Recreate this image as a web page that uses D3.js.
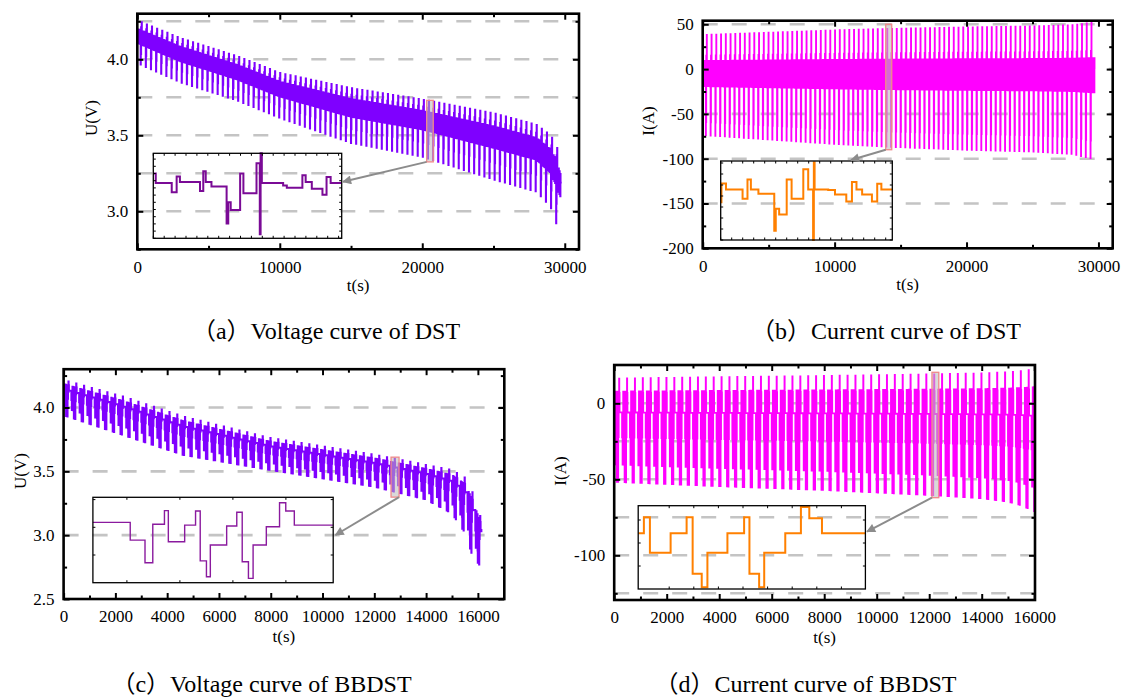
<!DOCTYPE html>
<html>
<head>
<meta charset="utf-8">
<script src="https://cdn.jsdelivr.net/npm/d3@7"></script>
<style>
  body { margin: 0; background: #fff; }
</style>
</head>
<body>
<svg id="chart" width="1122" height="698" font-family="'Liberation Serif', 'Times New Roman', 'Noto Sans CJK SC', serif"></svg>
<script>
const SERIF = "'Liberation Serif', 'Times New Roman', 'Noto Sans CJK SC', serif";

// ---------- DST test (panels a, b) ----------
// one 360 s DST cycle: step durations (s) and step current (A) read at the start of the test
const dstStepDur = [16, 28, 12, 8, 16, 24, 12, 8, 16, 24, 12, 8, 16, 36, 8, 24, 8, 32, 8, 44];
const dstStepCur = [0, -9, -19, 9, 0, -9, -19, 9, 0, -9, -19, 9, 0, -9, -73.5, -59, 15, -19, 38, 0];
// where each step sits inside the voltage swing (0 = lowest, 1 = highest), from inset (a)
const dstStepVoltPos = [0.68, 0.58, 0.48, 0.8, 0.68, 0.58, 0.48, 0.8, 0.68, 0.58, 0.48, 0.8, 0.68, 0.58, 0, 0.25, 0.88, 0.48, 1, 0.68];
const dstEndTime = 29720;
// peak discharge current
const dstEnvTime = [0, 10000, 14000, 20000, 25000, 28000, 29720];
const dstEnvCur = [-73.5, -83.5, -86.6, -90, -92, -94.7, -100.5];
// highest / lowest voltage of each cycle
const dstVoltTime = [0, 3000, 7000, 10000, 15000, 20000, 25000, 28000, 29000, 29400, 29720];
const dstVoltHigh = [4.255, 4.14, 4.02, 3.91, 3.81, 3.735, 3.645, 3.57, 3.50, 3.44, 3.33];
const dstVoltLow = [3.975, 3.85, 3.73, 3.615, 3.45, 3.36, 3.21, 3.13, 3.03, 2.92, 2.87];

// zoom windows [t0, t1, low, high] and the inset traces (time from t0)
const zoomA = [20310, 20770, 3.325, 3.73];
const insetAT = [0, 6, 45, 57, 65, 114, 122, 128, 142, 179, 183, 189, 212, 220, 252, 260, 262, 265, 317, 326, 364, 372, 387, 413, 423, 433, 460];
const insetAV = [3.634, 3.588, 3.545, 3.62, 3.593, 3.55, 3.645, 3.593, 3.572, 3.395, 3.497, 3.46, 3.634, 3.54, 3.682, 3.344, 3.73, 3.588, 3.577, 3.566, 3.625, 3.593, 3.561, 3.532, 3.617, 3.588, 3.588];
const zoomB = [13874, 14329, -90, 50];
const insetBT = [0, 2, 14, 58, 71, 80, 100, 142, 146, 155, 175, 188, 219, 232, 245, 247, 249, 285, 303, 333, 348, 360, 375, 401, 415, 426, 455];
const insetBV = [-23, 10, -0.4, -17, 17.4, -0.4, -8.1, -73.4, -34.8, -44.9, 17.4, -17, 35.2, -0.4, -90, 47.6, -0.4, -1.5, -9.3, -21.8, 12.6, -0.4, -9.3, -21.8, 9.7, -0.4, -0.4];

// ---------- BBDST test (panels c, d) ----------
// one 300 s BBDST cycle: durations (s) and current (A) read near t = 12200 s
const bbStepDur = [19, 10, 14, 5, 20, 14, 6, 8, 5, 20, 12, 7, 8, 5, 17, 17, 7, 11, 95];
const bbStepCur = [-26, -47, -7, 9, -26, -7, 9, -47, -60.3, -26, -7, 9, -47, -60.3, -26, -7, 19, 8, -7];
const bbStepVoltPos = [0.5, 0.22, 0.7, 0.88, 0.5, 0.7, 0.88, 0.22, 0, 0.5, 0.7, 0.88, 0.22, 0, 0.5, 0.7, 1, 0.89, 0.74];
const bbEndTime = 16135;
const bbEnvTime = [0, 4000, 8000, 12000, 14000, 15000, 15500, 16135];
const bbEnvCur = [-51.6, -54.5, -57, -60.3, -62.5, -64.7, -67, -72];
const bbVoltTime = [0, 2300, 4600, 8000, 12000, 14000, 15000, 15500, 15800, 16135];
const bbVoltHigh = [4.215, 4.085, 3.93, 3.76, 3.63, 3.55, 3.51, 3.45, 3.33, 3.12];
const bbVoltLow = [3.94, 3.785, 3.63, 3.51, 3.38, 3.28, 3.17, 3.02, 2.83, 2.75];

const zoomC = [12646, 12955, 3.298, 3.611];
const insetCT = [0, 48, 67, 77, 92, 97, 118, 132, 138, 146, 151, 172, 185, 192, 200, 206, 223, 240, 248, 259, 309];
const insetCV = [3.519, 3.454, 3.371, 3.512, 3.562, 3.448, 3.509, 3.561, 3.378, 3.32, 3.436, 3.506, 3.556, 3.375, 3.314, 3.436, 3.503, 3.591, 3.561, 3.509, 3.509];
const zoomD = [12105, 12365, -62.1, 20.4];
const insetDT = [0, 6.5, 13.4, 37.1, 55.4, 62.3, 72.7, 79.2, 102.1, 121.2, 127.3, 138.4, 144.2, 168.3, 186.2, 195.8, 210.3, 260];
const insetDV = [-6.95, 9.06, -26.3, -6.95, 9.06, -47.0, -60.3, -26.3, -6.95, 9.06, -47.0, -60.3, -26.3, -6.95, 19.1, 8.06, -6.95, -6.95];

// ---------- ticks ----------
const dstTimeMajor = [0, 10000, 20000, 30000];
const dstTimeMinor = [5000, 15000, 25000];
const bbTimeMajor = [0, 2000, 4000, 6000, 8000, 10000, 12000, 14000, 16000];
const bbTimeMinor = [1000, 3000, 5000, 7000, 9000, 11000, 13000, 15000];
const voltMajorA = [3.0, 3.5, 4.0];
const voltMinorA = [2.75, 3.25, 3.75, 4.25];
const gridA = [3.0, 3.25, 3.5, 3.75, 4.0, 4.25];
const curMajorB = [-200, -150, -100, -50, 0, 50];
const curMinorB = [-175, -125, -75, -25, 25];
const gridB = [-150, -100, -50, 0, 50];
const voltMajorC = [2.5, 3.0, 3.5, 4.0];
const voltMinorC = [2.75, 3.25, 3.75, 4.25];
const gridC = [3.0, 3.5, 4.0];
const curMajorD = [-100, -50, 0];
const curMinorD = [-125, -75, -25];
const gridD = [-125, -100, -75, -50, -25, 0];

const captions = ["（a）Voltage curve of DST", "（b）Current curve of DST",
                  "（c）Voltage curve of BBDST", "（d）Current curve of BBDST"];

const svg = d3.select("#chart");
const defs = svg.append("defs");
defs.append("marker")
    .attr("id", "arrow")
    .attr("markerUnits", "userSpaceOnUse")
    .attr("viewBox", "0 0 10 10")
    .attr("refX", 9).attr("refY", 5)
    .attr("markerWidth", 11).attr("markerHeight", 9)
    .attr("orient", "auto")
    .append("path")
    .attr("d", "M0,0 L10,5 L0,10 z")
    .attr("fill", "#8c8c8c");

// repeat one cycle profile, scaling it with the discharge envelope
function stepSeries(stepDur, stepCur, endTime, envTime, envCur) {
    const env = d3.scaleLinear().domain(envTime).range(envCur).clamp(true);
    const ref = d3.min(stepCur);
    const pts = [];
    let t = 0, k = 0;
    while (t < endTime) {
        pts.push({ t: t, k: k, s: env(t) / ref });
        t += stepDur[k];
        k = (k + 1) % stepDur.length;
    }
    const last = pts[pts.length - 1];
    pts.push({ t: endTime, k: last.k, s: last.s });
    return pts;
}

function panel(cfg, id) {
    const g = svg.append("g");
    const x = d3.scaleLinear().domain(cfg.xDom).range([cfg.left, cfg.right]);
    const y = d3.scaleLinear().domain(cfg.yDom).range([cfg.bottom, cfg.top]);

    g.append("clipPath").attr("id", "clip" + id)
        .append("rect")
        .attr("x", cfg.left).attr("y", cfg.top)
        .attr("width", cfg.right - cfg.left).attr("height", cfg.bottom - cfg.top);

    // dashed grid
    g.selectAll("line.grid")
        .data(cfg.grid)
        .enter()
        .append("line")
        .attr("class", "grid")
        .attr("x1", cfg.left).attr("x2", cfg.right)
        .attr("y1", (d) => y(d)).attr("y2", (d) => y(d))
        .attr("stroke", "#c4c4c4")
        .attr("stroke-width", 2.6)
        .attr("stroke-dasharray", "15 14");

    return { g, x, y };
}

function frame(p, cfg) {
    const { g, x, y } = p;
    const style = (sel) => sel.attr("font-family", SERIF).attr("font-size", 17)
        .call((s) => s.select(".domain").remove())
        .call((s) => s.selectAll(".tick line").attr("stroke-width", 2))
        .call((s) => s.selectAll(".tick text").attr("fill", "#000"));

    g.append("g").attr("transform", `translate(0,${cfg.bottom})`)
        .call(d3.axisBottom(x).tickValues(cfg.xMajor).tickSize(-6).tickPadding(11.3).tickFormat((d) => String(d)))
        .call(style);
    g.append("g").attr("transform", `translate(0,${cfg.bottom})`)
        .call(d3.axisBottom(x).tickValues(cfg.xMinor).tickSize(-3.5).tickFormat(""))
        .call(style);
    g.append("g").attr("transform", `translate(0,${cfg.top})`)
        .call(d3.axisTop(x).tickValues(cfg.xMajor).tickSize(-6).tickFormat(""))
        .call(style);
    g.append("g").attr("transform", `translate(0,${cfg.top})`)
        .call(d3.axisTop(x).tickValues(cfg.xMinor).tickSize(-3.5).tickFormat(""))
        .call(style);
    g.append("g").attr("transform", `translate(${cfg.left},0)`)
        .call(d3.axisLeft(y).tickValues(cfg.yMajor).tickSize(-6).tickPadding(9).tickFormat(cfg.yFormat))
        .call(style);
    g.append("g").attr("transform", `translate(${cfg.left},0)`)
        .call(d3.axisLeft(y).tickValues(cfg.yMinor).tickSize(-3.5).tickFormat(""))
        .call(style);
    g.append("g").attr("transform", `translate(${cfg.right},0)`)
        .call(d3.axisRight(y).tickValues(cfg.yMajor).tickSize(-6).tickFormat(""))
        .call(style);
    g.append("g").attr("transform", `translate(${cfg.right},0)`)
        .call(d3.axisRight(y).tickValues(cfg.yMinor).tickSize(-3.5).tickFormat(""))
        .call(style);

    g.append("rect")
        .attr("x", cfg.left).attr("y", cfg.top)
        .attr("width", cfg.right - cfg.left).attr("height", cfg.bottom - cfg.top)
        .attr("fill", "none").attr("stroke", "#000").attr("stroke-width", 2.6);

    g.append("text")
        .attr("x", (cfg.left + cfg.right) / 2).attr("y", cfg.xTitleY)
        .attr("text-anchor", "middle").attr("font-size", 17).attr("font-family", SERIF)
        .text("t(s)");
    g.append("text")
        .attr("transform", `translate(${cfg.yTitleX},${cfg.yTitleY}) rotate(-90)`)
        .attr("text-anchor", "middle").attr("dy", "0.35em").attr("font-size", 17).attr("font-family", SERIF)
        .text(cfg.yTitle);
    svg.append("text")
        .attr("x", cfg.capX).attr("y", cfg.capY)
        .attr("text-anchor", "middle").attr("font-size", 24).attr("font-family", SERIF)
        .text(cfg.caption);
}

function inset(p, win, T, V, box, style) {
    const { g, x, y } = p;
    // highlighted window on the main plot
    g.append("rect")
        .attr("x", x(win[0])).attr("y", y(win[3]))
        .attr("width", x(win[1]) - x(win[0])).attr("height", y(win[2]) - y(win[3]))
        .attr("fill", "rgba(185,185,185,0.55)")
        .attr("stroke", "#f08a8a").attr("stroke-width", 1.3);

    const ix = d3.scaleLinear().domain([0, win[1] - win[0]]).range([box.left, box.right]);
    const iy = d3.scaleLinear().domain([win[2], win[3]]).range([box.bottom, box.top]);
    const line = d3.line()
        .x((d) => ix(d[0]))
        .y((d) => iy(d[1]))
        .curve(d3.curveStepAfter);
    g.append("path")
        .datum(T.map((t, i) => [t, V[i]]))
        .attr("d", line)
        .attr("fill", "none")
        .attr("stroke", style.color)
        .attr("stroke-width", style.width);

    // small inward ticks on the inset frame
    const tx = d3.range(box.left + box.offX, box.right - 1, box.dx);
    const ty = d3.range(box.bottom - box.offY, box.top + 1, -box.dy);
    const tk = g.append("g").attr("stroke", "#000").attr("stroke-width", 1);
    tx.forEach((v) => {
        tk.append("line").attr("x1", v).attr("x2", v).attr("y1", box.bottom).attr("y2", box.bottom - 2.5);
        tk.append("line").attr("x1", v).attr("x2", v).attr("y1", box.top).attr("y2", box.top + 2.5);
    });
    ty.forEach((v) => {
        tk.append("line").attr("y1", v).attr("y2", v).attr("x1", box.left).attr("x2", box.left + 2.5);
        tk.append("line").attr("y1", v).attr("y2", v).attr("x1", box.right).attr("x2", box.right - 2.5);
    });
    g.append("rect")
        .attr("x", box.left).attr("y", box.top)
        .attr("width", box.right - box.left).attr("height", box.bottom - box.top)
        .attr("fill", "none").attr("stroke", "#000").attr("stroke-width", 1.3);

    // arrow from the window to the inset
    const sx = box.fromRight ? x(win[1]) : x(win[0]);
    g.append("line")
        .attr("x1", sx).attr("y1", y(win[2]))
        .attr("x2", box.ax).attr("y2", box.ay)
        .attr("stroke", "#8c8c8c").attr("stroke-width", 2)
        .attr("marker-end", "url(#arrow)");
}

// ---------- series ----------
const dstSeries = stepSeries(dstStepDur, dstStepCur, dstEndTime, dstEnvTime, dstEnvCur);
const bbSeries = stepSeries(bbStepDur, bbStepCur, bbEndTime, bbEnvTime, bbEnvCur);

function voltOf(pos, vt, vh, vl) {
    const hi = d3.scaleLinear().domain(vt).range(vh).clamp(true);
    const lo = d3.scaleLinear().domain(vt).range(vl).clamp(true);
    return (d) => d3.scaleLinear().domain([0, 1]).range([lo(d.t), hi(d.t)])(pos[d.k]);
}
const dstVolt = voltOf(dstStepVoltPos, dstVoltTime, dstVoltHigh, dstVoltLow);
const bbVolt = voltOf(bbStepVoltPos, bbVoltTime, bbVoltHigh, bbVoltLow);

function trace(p, id, data, yv, color, w) {
    p.g.append("path")
        .datum(data)
        .attr("clip-path", `url(#clip${id})`)
        .attr("d", d3.line().x((d) => p.x(d.t)).y((d) => p.y(yv(d))).curve(d3.curveStepAfter))
        .attr("fill", "none")
        .attr("stroke", color)
        .attr("stroke-width", w);
}

// (a)
const cfgA = {
    left: 137.3, right: 579, top: 13.7, bottom: 249.3,
    xDom: [0, 31000], yDom: [2.75, 4.3], grid: gridA,
    xMajor: dstTimeMajor, xMinor: dstTimeMinor, yMajor: voltMajorA, yMinor: voltMinorA,
    yFormat: d3.format(".1f"), yTitle: "U(V)", yTitleX: 91.5, yTitleY: 118, xTitleY: 291,
    caption: captions[0], capX: 326, capY: 339
};
const pA = panel(cfgA, "a");
trace(pA, "a", dstSeries, dstVolt, "#7f00ff", 2);
inset(pA, zoomA, insetAT, insetAV,
    { left: 153.3, right: 341.7, top: 153.3, bottom: 238.3, dx: 10.9, dy: 7.2, offX: 0, offY: 0,
      ax: 343, ay: 181.7, fromRight: false },
    { color: "#7a0a96", width: 2 });
frame(pA, cfgA);

// (b)
const cfgB = {
    left: 702.7, right: 1112.7, top: 20.7, bottom: 248.3,
    xDom: [0, 31080], yDom: [-200, 54], grid: gridB,
    xMajor: dstTimeMajor, xMinor: dstTimeMinor, yMajor: curMajorB, yMinor: curMinorB,
    yFormat: (d) => String(d), yTitle: "I(A)", yTitleX: 648.3, yTitleY: 121, xTitleY: 290,
    caption: captions[1], capX: 886, capY: 339
};
const pB = panel(cfgB, "b");
trace(pB, "b", dstSeries, (d) => dstStepCur[d.k] * d.s, "#ff00ff", 1.8);
inset(pB, zoomB, insetBT, insetBV,
    { left: 720.7, right: 892.3, top: 161, bottom: 240, dx: 11, dy: 11, offX: 0, offY: 0,
      ax: 851, ay: 160, fromRight: false },
    { color: "#ff8000", width: 2 });
frame(pB, cfgB);

// (c)
const cfgC = {
    left: 63.6, right: 504.3, top: 369.2, bottom: 599,
    xDom: [0, 17020], yDom: [2.5, 4.3], grid: gridC,
    xMajor: bbTimeMajor, xMinor: bbTimeMinor, yMajor: voltMajorC, yMinor: voltMinorC,
    yFormat: d3.format(".1f"), yTitle: "U(V)", yTitleX: 19.6, yTitleY: 471, xTitleY: 642,
    caption: captions[2], capX: 261.5, capY: 692
};
const pC = panel(cfgC, "c");
trace(pC, "c", bbSeries, bbVolt, "#7f00ff", 2);
inset(pC, zoomC, insetCT, insetCV,
    { left: 92.9, right: 333.2, top: 497.3, bottom: 582.7, dx: 53, dy: 27.7, offX: 34, offY: 27.7,
      ax: 335.5, ay: 535, fromRight: true },
    { color: "#8a1a9e", width: 1.4 });
frame(pC, cfgC);

// (d)
const cfgD = {
    left: 614.2, right: 1035, top: 365, bottom: 600,
    xDom: [0, 16030], yDom: [-129.4, 25.2], grid: gridD,
    xMajor: bbTimeMajor, xMinor: bbTimeMinor, yMajor: curMajorD, yMinor: curMinorD,
    yFormat: (d) => String(d), yTitle: "I(A)", yTitleX: 560, yTitleY: 471, xTitleY: 643,
    caption: captions[3], capX: 805.5, capY: 692
};
const pD = panel(cfgD, "d");
trace(pD, "d", bbSeries, (d) => bbStepCur[d.k] * d.s, "#ff00ff", 1.8);
inset(pD, zoomD, insetDT, insetDV,
    { left: 638.2, right: 865.4, top: 505.7, bottom: 589, dx: 24.6, dy: 23, offX: 31, offY: 23,
      ax: 867, ay: 531.7, fromRight: false },
    { color: "#ff8000", width: 2 });
frame(pD, cfgD);
</script>
</body>
</html>
